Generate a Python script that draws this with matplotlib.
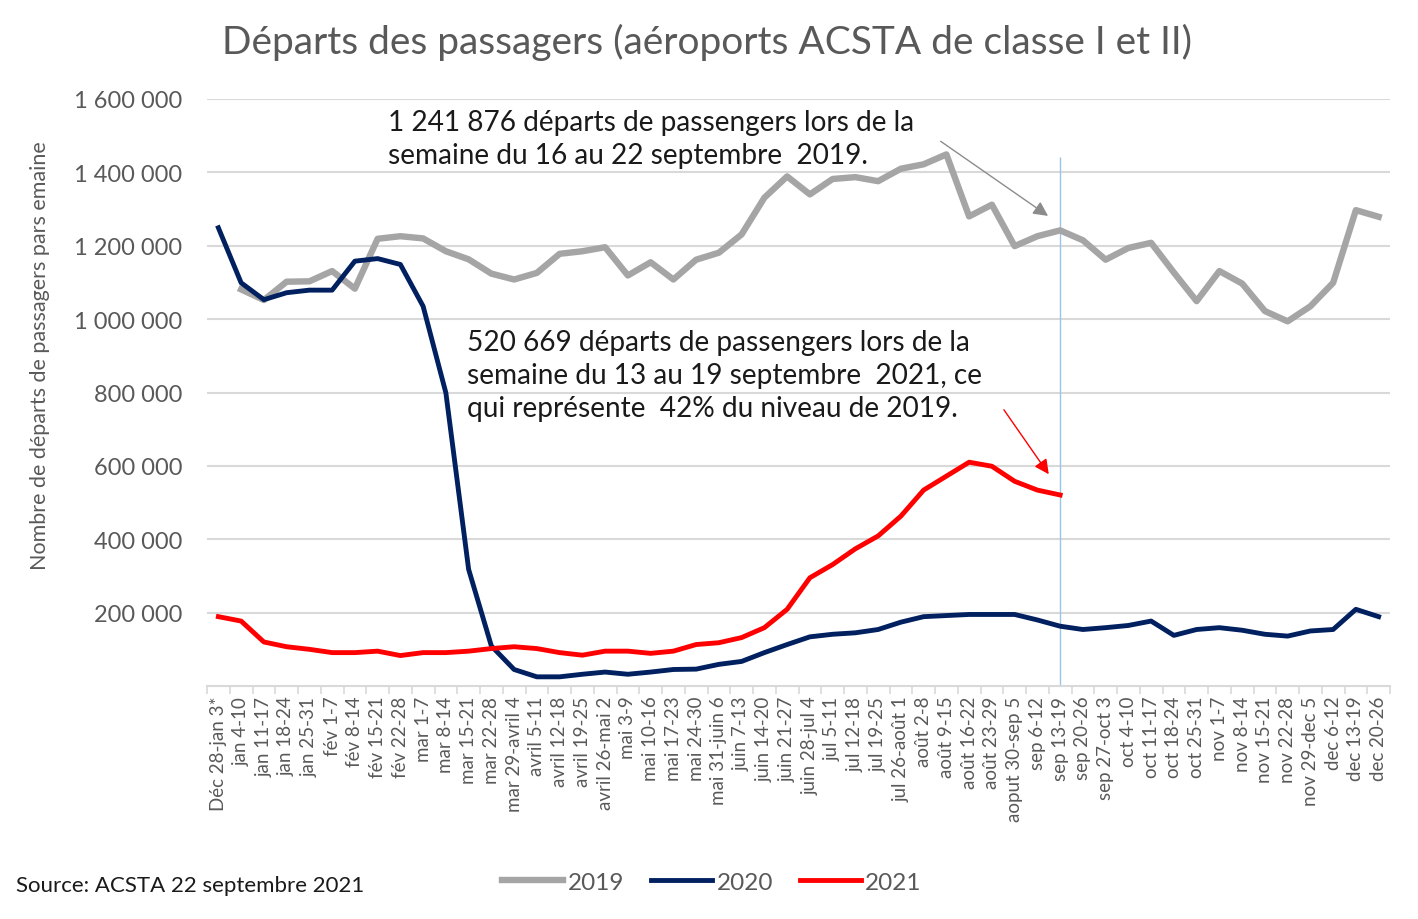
import matplotlib
matplotlib.use("Agg")
import matplotlib.pyplot as plt
import numpy as np

plt.rcParams['font.family'] = ['Lato', 'DejaVu Sans']

weeks = ["Déc 28-jan 3*", "jan 4-10", "jan 11-17", "jan 18-24", "jan 25-31", "fév 1-7",
         "fév 8-14", "fév 15-21", "fév 22-28", "mar 1-7", "mar 8-14", "mar 15-21",
         "mar 22-28", "mar 29-avril 4", "avril 5-11", "avril 12-18", "avril 19-25",
         "avril 26-mai 2", "mai 3-9", "mai 10-16", "mai 17-23", "mai 24-30",
         "mai 31-juin 6", "juin 7-13", "juin 14-20", "juin 21-27", "juin 28-jul 4",
         "jul 5-11", "jul 12-18", "jul 19-25", "jul 26-août 1", "août 2-8", "août 9-15",
         "août 16-22", "août 23-29", "aoput 30-sep 5", "sep 6-12", "sep 13-19",
         "sep 20-26", "sep 27-oct 3", "oct 4-10", "oct 11-17", "oct 18-24", "oct 25-31",
         "nov 1-7", "nov 8-14", "nov 15-21", "nov 22-28", "nov 29-dec 5", "dec 6-12",
         "dec 13-19", "dec 20-26"]

y2019 = [np.nan, 1081000, 1052000, 1102000, 1103000, 1131000, 1083000, 1219000, 1226000,
         1220000, 1185000, 1163000, 1124000, 1108000, 1126000, 1178000, 1185000, 1196000,
         1119000, 1155000, 1108000, 1162000, 1181000, 1231000, 1331000, 1389000, 1340000,
         1382000, 1387000, 1376000, 1410000, 1422000, 1449000, 1280000, 1312000, 1199000,
         1226000, 1241876, 1215000, 1162000, 1194000, 1208000, 1127000, 1049000, 1131000,
         1097000, 1022000, 994000, 1035000, 1099000, 1297000, 1279000]

y2020 = [1249000, 1099000, 1053000, 1072000, 1079000, 1079000, 1158000, 1165000, 1149000,
         1035000, 799000, 318000, 109000, 45000, 25000, 25000, 32000, 38000, 32000, 38000,
         45000, 46000, 59000, 67000, 91000, 113000, 134000, 141000, 145000, 154000, 174000,
         189000, 192000, 195000, 195000, 195000, 180000, 163000, 154000, 159000, 165000,
         177000, 138000, 154000, 159000, 152000, 141000, 136000, 150000, 154000, 209000,
         189000]

y2021 = [189000, 177000, 120000, 107000, 100000, 91000, 91000, 95000, 83000, 91000, 91000,
         95000, 102000, 107000, 102000, 91000, 84000, 95000, 95000, 89000, 95000, 113000,
         118000, 132000, 159000, 209000, 295000, 331000, 374000, 409000, 463000, 534000,
         572000, 610000, 599000, 558000, 534000, 520669]

yticks = [200000, 400000, 600000, 800000, 1000000, 1200000, 1400000, 1600000]

title = "Départs des passagers (aéroports ACSTA de classe I et II)"
ylabel = "Nombre de départs de passagers pars emaine"
note2019 = "1 241 876 départs de passengers lors de la\nsemaine du 16 au 22 septembre  2019."
note2021 = ("520 669 départs de passengers lors de la\nsemaine du 13 au 19 septembre  2021, ce\n"
            "qui représente  42% du niveau de 2019.")
source = "Source: ACSTA 22 septembre 2021"

fig = plt.figure(figsize=(14.18, 9.2), dpi=100)
ax = fig.add_axes([207/1418, 1-687/920, (1390-207)/1418, (687-100)/920])

x = np.arange(len(weeks))
ax.plot(x, y2019, color="#a5a5a5", lw=4.6, label="2019", solid_joinstyle="round", zorder=3)
ax.plot(x, y2020, color="#002060", lw=3.5, label="2020", solid_joinstyle="round", zorder=4)
ax.plot(x[:len(y2021)], y2021, color="#ff0000", lw=3.5, label="2021", solid_joinstyle="round", zorder=5)

sel = len(y2021) - 1
ax.vlines(sel, 0, 1443000, color="#9dc3e6", lw=1.0, zorder=2)

ax.set_xlim(-0.5, len(weeks) - 0.5)
ax.set_ylim(0, 1600000)
ax.set_yticks(yticks)
ax.set_yticklabels([f"{v:,}".replace(",", " ") for v in yticks])
ax.set_xticks(x)
ax.set_xticklabels(weeks, rotation=90, va="top", ha="center")
ax.set_xticks(np.arange(-0.5, len(weeks)), minor=True)
ax.tick_params(axis="x", which="major", length=0, pad=7, labelsize=13.5, labelcolor="#595959")
ax.tick_params(axis="x", which="minor", length=6, color="#d9d9d9", width=1.2)
ax.tick_params(axis="y", length=0, pad=18, labelsize=17, labelcolor="#595959")
ax.grid(axis="y", color="#d9d9d9", lw=1.5, zorder=0)
for s in ["left", "right", "top"]:
    ax.spines[s].set_visible(False)
ax.spines["bottom"].set_color("#d9d9d9")
ax.spines["bottom"].set_linewidth(1.5)

fig.text(707/1418, 1-42/920, title, ha="center", va="center", fontsize=28, color="#595959")
fig.text(40/1418, 1-356/920, ylabel, rotation=90, ha="center", va="center", fontsize=15.5, color="#595959")

ax.text(7.47, 1493000, note2019, fontsize=20.2, color="#1a1a1a", va="center", linespacing=1.33)
ax.annotate("", xy=(36.57, 1277000), xytext=(31.65, 1489000),
            arrowprops=dict(arrowstyle="-|>", color="#8c8c8c", lw=1.0, mutation_scale=22))
ax.text(10.95, 848000, note2021, fontsize=20.2, color="#1a1a1a", va="center", linespacing=1.33)
ax.annotate("", xy=(36.57, 571000), xytext=(34.46, 759000),
            arrowprops=dict(arrowstyle="-|>", color="#ff0000", lw=1.0, mutation_scale=22))

leg = fig.legend(loc="center", bbox_to_anchor=(712/1418, 1-883/920), ncol=3, frameon=False,
                 fontsize=17.5, handlelength=2.5, columnspacing=1.1, handletextpad=0.2)
for t in leg.get_texts():
    t.set_color("#595959")

fig.text(16/1418, 1-886/920, source, ha="left", va="center", fontsize=16, color="#1a1a1a")

fig.savefig("out.png", dpi=100)
